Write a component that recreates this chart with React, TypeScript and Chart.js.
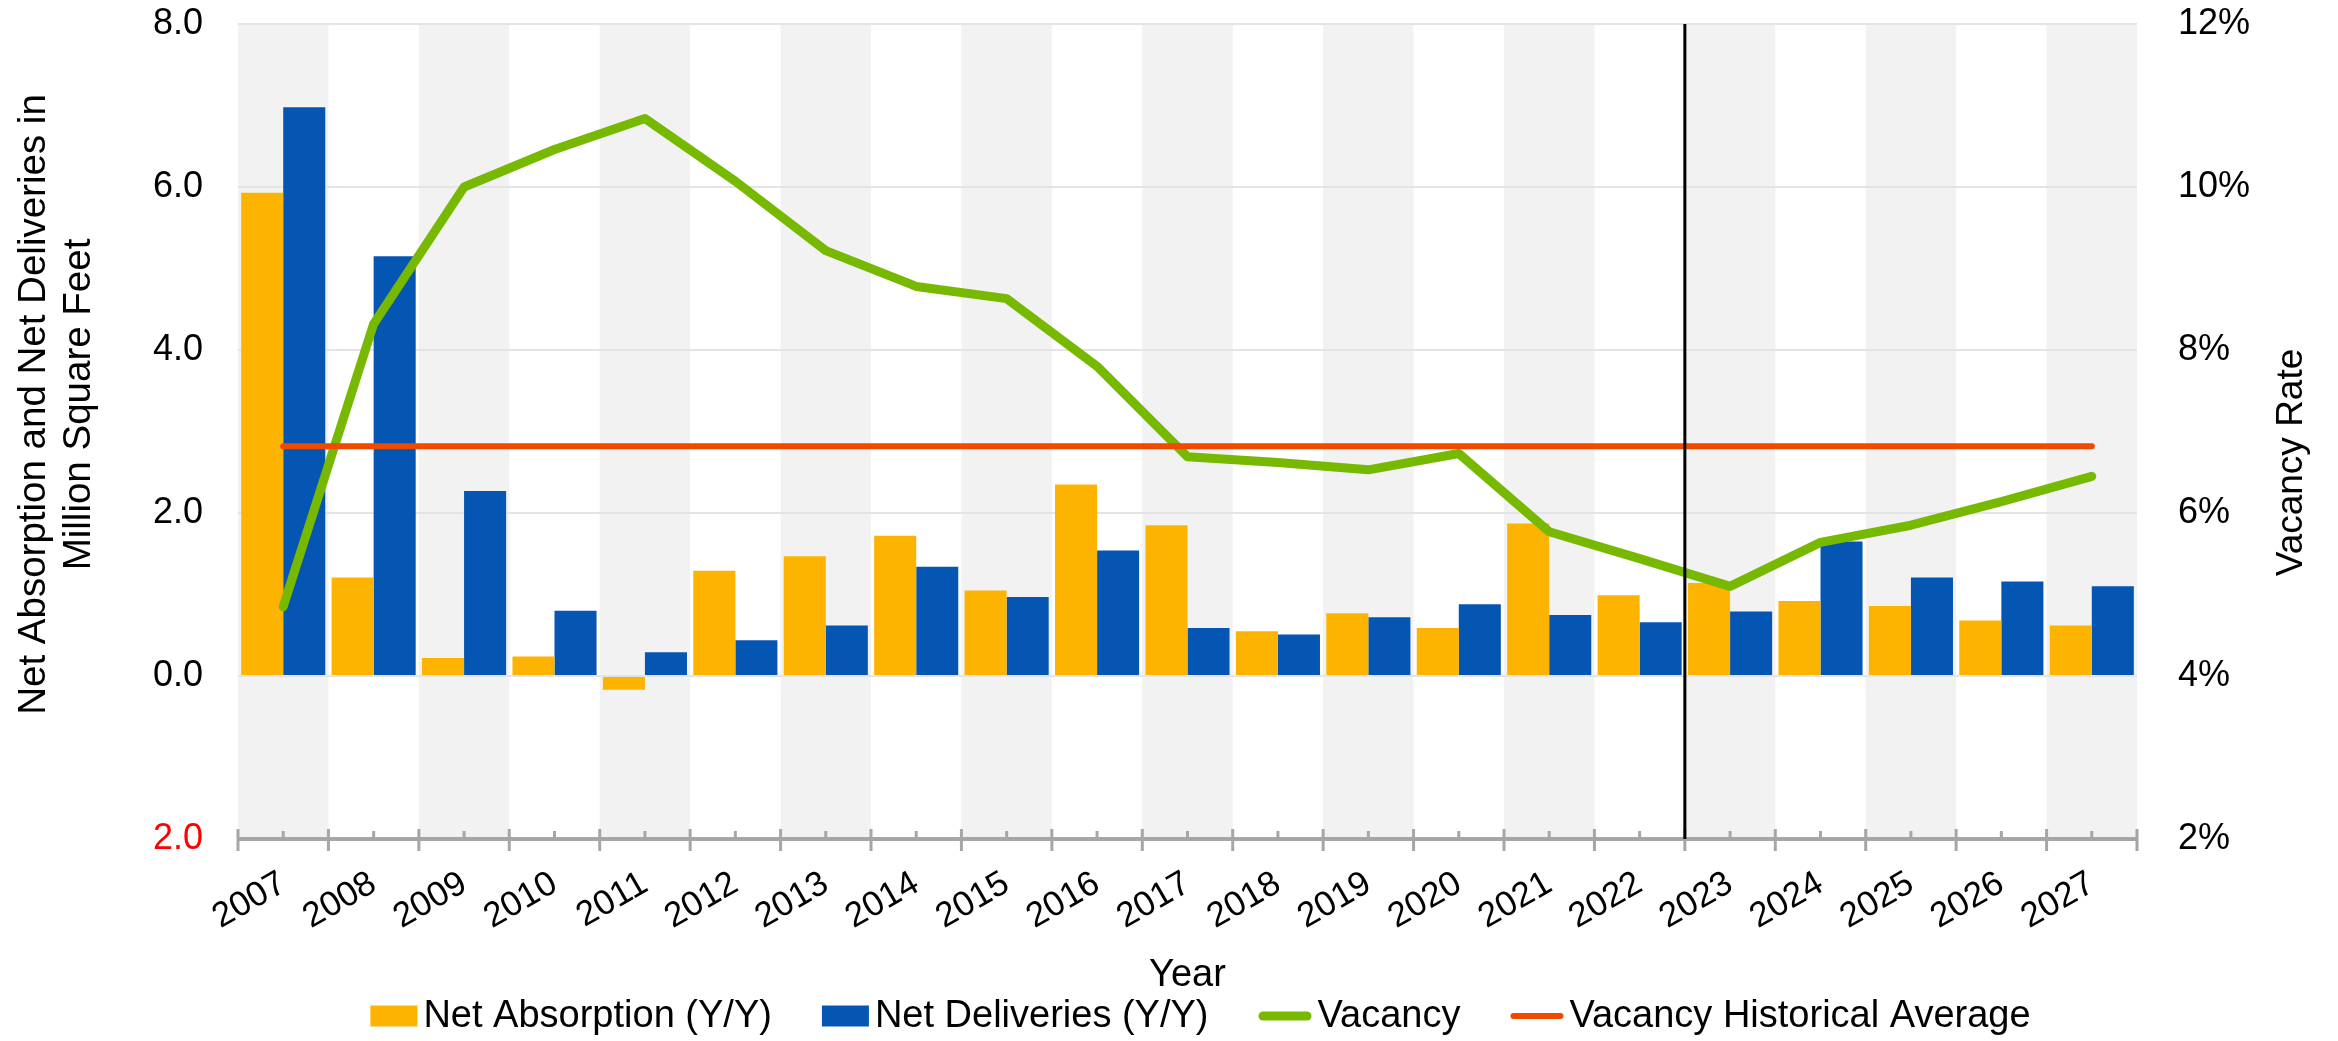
import React, { useEffect, useRef } from 'react';
import { Chart, registerables } from 'chart.js';

Chart.register(...registerables);

const FONT = '"Liberation Sans", Arial, Helvetica, sans-serif';

const years = ['2007', '2008', '2009', '2010', '2011', '2012', '2013', '2014', '2015', '2016', '2017', '2018', '2019', '2020', '2021', '2022', '2023', '2024', '2025', '2026', '2027'];
const netAbsorption = [5.93, 1.21, 0.22, 0.24, -0.17, 1.29, 1.47, 1.72, 1.05, 2.35, 1.85, 0.55, 0.77, 0.59, 1.87, 0.99, 1.14, 0.92, 0.86, 0.68, 0.62];
const netDeliveries = [6.98, 5.15, 2.27, 0.8, 0.29, 0.44, 0.62, 1.34, 0.97, 1.54, 0.59, 0.51, 0.72, 0.88, 0.75, 0.66, 0.79, 1.65, 1.21, 1.16, 1.1];
const vacancyRate = [4.85, 8.32, 10.0, 10.46, 10.84, 10.07, 9.22, 8.78, 8.63, 7.8, 6.69, 6.62, 6.53, 6.73, 5.77, 5.44, 5.1, 5.64, 5.85, 6.14, 6.45];
const vacancyHistoricalAverage = [6.82, 6.82, 6.82, 6.82, 6.82, 6.82, 6.82, 6.82, 6.82, 6.82, 6.82, 6.82, 6.82, 6.82, 6.82, 6.82, 6.82, 6.82, 6.82, 6.82, 6.82];
const leftTicks = [-2, 0, 2, 4, 6, 8];
const rightTicks = [2, 4, 6, 8, 10, 12];
const forecastStart = '2023';

const leftTitle = ['Net Absorption and Net Deliveries in', 'Million Square Feet'];
const rightTitle = 'Vacancy Rate';
const xTitle = 'Year';

const COLORS = {
  absorption: '#FDB400',
  deliveries: '#0556B3',
  vacancy: '#76B900',
  average: '#EF4A00',
  band: '#F2F2F2',
  grid: '#E4E4E4',
  axis: '#A6A6A6',
};

const decorPlugin = {
  id: 'decor',
  beforeDraw(chart: any) {
    const { ctx, chartArea } = chart;
    const xs = chart.scales.x;
    const half = (xs.getPixelForValue(1) - xs.getPixelForValue(0)) / 2;
    ctx.save();
    ctx.fillStyle = COLORS.band;
    for (let i = 0; i < years.length; i += 2) {
      const c = xs.getPixelForValue(i);
      ctx.fillRect(c - half, chartArea.top, half * 2, chartArea.bottom - chartArea.top);
    }
    ctx.restore();
  },
  afterDatasetsDraw(chart: any) {
    const { ctx, chartArea } = chart;
    const xs = chart.scales.x;
    const half = (xs.getPixelForValue(1) - xs.getPixelForValue(0)) / 2;
    const yb = chart.scales.y.getPixelForValue(leftTicks[0]);
    ctx.save();
    ctx.strokeStyle = COLORS.axis;
    ctx.lineWidth = 4;
    ctx.beginPath();
    ctx.moveTo(chartArea.left, yb);
    ctx.lineTo(chartArea.right, yb);
    ctx.stroke();
    ctx.lineWidth = 3;
    for (let i = 0; i <= years.length; i++) {
      const bx = xs.getPixelForValue(0) - half + i * half * 2;
      ctx.beginPath();
      ctx.moveTo(bx, yb - 10);
      ctx.lineTo(bx, yb + 12);
      ctx.stroke();
    }
    for (let i = 0; i < years.length; i++) {
      const cx = xs.getPixelForValue(i);
      ctx.beginPath();
      ctx.moveTo(cx, yb - 8);
      ctx.lineTo(cx, yb);
      ctx.stroke();
    }
    const idx = years.indexOf(forecastStart);
    const fx = xs.getPixelForValue(idx) - half;
    ctx.strokeStyle = '#000';
    ctx.lineWidth = 3;
    ctx.beginPath();
    ctx.moveTo(fx, chartArea.top);
    ctx.lineTo(fx, yb);
    ctx.stroke();
    ctx.restore();
  },
  afterDraw(chart: any) {
    const { ctx, chartArea } = chart;
    const midX = (chartArea.left + chartArea.right) / 2;
    const midY = (chartArea.top + chartArea.bottom) / 2;
    ctx.save();
    ctx.fillStyle = '#000';
    ctx.textBaseline = 'middle';
    ctx.textAlign = 'center';

    // axis titles
    ctx.font = `38.5px ${FONT}`;
    ctx.save();
    ctx.translate(0, midY - 27);
    ctx.rotate(-Math.PI / 2);
    ctx.fillText(leftTitle[0], 0, 34);
    ctx.fillText(leftTitle[1], 0, 79);
    ctx.restore();

    ctx.font = `37px ${FONT}`;
    ctx.save();
    ctx.translate(chart.width - 46, midY + 31);
    ctx.rotate(-Math.PI / 2);
    ctx.fillText(rightTitle, 0, 0);
    ctx.restore();

    ctx.font = `38px ${FONT}`;
    ctx.fillText(xTitle, midX, chart.height - 65);

    // legend
    ctx.font = `38px ${FONT}`;
    ctx.textAlign = 'left';
    const boxW = 47;
    const boxH = 21;
    const lineW = 53;
    const textGap = 6;
    const itemGap = 50;
    const items = chart.data.datasets.map((ds: any) => ({
      label: ds.label,
      type: ds.type,
      color: ds.type === 'line' ? ds.borderColor : ds.backgroundColor,
      lw: ds.borderWidth,
      sw: ds.type === 'line' ? lineW : boxW,
      w: ctx.measureText(ds.label).width,
    }));
    const total = items.reduce((s: number, it: any) => s + it.sw + textGap + it.w, 0) + itemGap * (items.length - 1);
    let x = midX + 13 - total / 2;
    const y = chart.height - 25;
    for (const it of items) {
      if (it.type === 'line') {
        ctx.strokeStyle = it.color;
        ctx.lineWidth = it.lw;
        ctx.lineCap = 'round';
        ctx.beginPath();
        ctx.moveTo(x + it.lw / 2, y);
        ctx.lineTo(x + it.sw - it.lw / 2, y);
        ctx.stroke();
      } else {
        ctx.fillStyle = it.color;
        ctx.fillRect(x, y - boxH / 2, it.sw, boxH);
      }
      x += it.sw + textGap;
      ctx.fillStyle = '#000';
      ctx.fillText(it.label, x, y + 1);
      x += it.w + itemGap;
    }
    ctx.restore();
  },
};

export default function App() {
  const canvasRef = useRef<HTMLCanvasElement | null>(null);

  useEffect(() => {
    if (!canvasRef.current) return;
    Chart.defaults.font.family = FONT;
    Chart.defaults.color = '#000';
    const chart = new Chart(canvasRef.current, {
      type: 'bar',
      data: {
        labels: years,
        datasets: [
          {
            type: 'bar',
            label: 'Net Absorption (Y/Y)',
            data: netAbsorption,
            backgroundColor: COLORS.absorption,
            borderWidth: 0,
            yAxisID: 'y',
            order: 2,
            categoryPercentage: 0.93,
            barPercentage: 1.0,
          },
          {
            type: 'bar',
            label: 'Net Deliveries (Y/Y)',
            data: netDeliveries,
            backgroundColor: COLORS.deliveries,
            borderWidth: 0,
            yAxisID: 'y',
            order: 2,
            categoryPercentage: 0.93,
            barPercentage: 1.0,
          },
          {
            type: 'line',
            label: 'Vacancy',
            data: vacancyRate,
            borderColor: COLORS.vacancy,
            backgroundColor: COLORS.vacancy,
            borderWidth: 9,
            pointRadius: 0,
            tension: 0,
            borderJoinStyle: 'round',
            borderCapStyle: 'round',
            yAxisID: 'y1',
            order: 1,
          },
          {
            type: 'line',
            label: 'Vacancy Historical Average',
            data: vacancyHistoricalAverage,
            borderColor: COLORS.average,
            backgroundColor: COLORS.average,
            borderWidth: 6,
            pointRadius: 0,
            tension: 0,
            borderCapStyle: 'round',
            yAxisID: 'y1',
            order: 0,
          },
        ] as any,
      },
      options: {
        animation: false,
        responsive: true,
        maintainAspectRatio: false,
        devicePixelRatio: 1,
        layout: { padding: { top: 24, left: 0, right: 0, bottom: 0 } },
        plugins: {
          legend: { display: false },
          tooltip: { enabled: false },
        },
        scales: {
          x: {
            offset: true,
            grid: { display: false, drawTicks: false },
            border: { display: false },
            ticks: {
              autoSkip: false,
              minRotation: 30,
              maxRotation: 30,
              padding: 24,
              labelOffset: 0,
              color: '#000',
              font: { size: 35, family: FONT },
            },
            afterFit: (s: any) => {
              s.height = 202;
              s.paddingLeft = 0;
              s.paddingRight = 0;
            },
          },
          y: {
            position: 'left',
            min: leftTicks[0],
            max: leftTicks[leftTicks.length - 1],
            afterBuildTicks: (s: any) => {
              s.ticks = leftTicks.map((v) => ({ value: v }));
            },
            grid: { color: COLORS.grid, lineWidth: 2, drawTicks: false },
            border: { display: false },
            ticks: {
              padding: 35,
              font: { size: 36, family: FONT },
              color: (c: any) => (c.tick && c.tick.value < 0 ? '#FF0000' : '#000'),
              callback: (v: any) => Math.abs(Number(v)).toFixed(1),
            },
            afterFit: (s: any) => {
              s.width = 238;
              s.paddingTop = 0;
              s.paddingBottom = 0;
            },
          },
          y1: {
            position: 'right',
            min: rightTicks[0],
            max: rightTicks[rightTicks.length - 1],
            afterBuildTicks: (s: any) => {
              s.ticks = rightTicks.map((v) => ({ value: v }));
            },
            grid: { display: false, drawTicks: false },
            border: { display: false },
            ticks: {
              padding: 41,
              font: { size: 36, family: FONT },
              color: '#000',
              callback: (v: any) => `${v}%`,
            },
            afterFit: (s: any) => {
              s.width = 201;
              s.paddingTop = 0;
              s.paddingBottom = 0;
            },
          },
        },
      } as any,
      plugins: [decorPlugin],
    });
    return () => chart.destroy();
  }, []);

  return (
    <div style={{ position: 'fixed', left: 0, top: 0, width: '2338px', height: '1041px' }}>
      <canvas ref={canvasRef} />
    </div>
  );
}
